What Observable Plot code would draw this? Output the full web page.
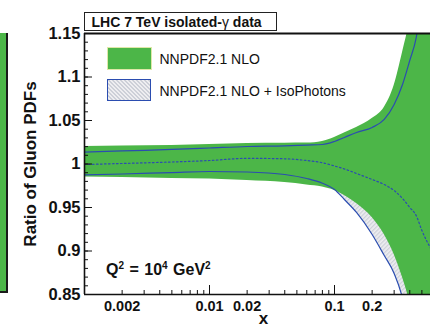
<!DOCTYPE html>
<html><head><meta charset="utf-8">
<script src="https://cdn.jsdelivr.net/npm/d3@7"></script>
<script src="https://cdn.jsdelivr.net/npm/@observablehq/plot@0.6"></script>
<style>
html,body{margin:0;padding:0;background:#fff;overflow:hidden}
#wrap{position:relative;width:430px;height:330px;font-family:"Liberation Sans",Arial,Helvetica,sans-serif;color:#111}
#wrap svg{position:absolute;left:0;top:0}
.ov{position:absolute;white-space:nowrap}
</style></head><body><div id="wrap"></div>
<script>
// ---- data ----
const xs      = [0.001, 0.002, 0.005, 0.01, 0.02, 0.04, 0.06, 0.08, 0.1, 0.12, 0.15, 0.2, 0.25, 0.3, 0.35, 0.4, 0.45, 0.5, 0.6];
const nloHigh = [1.0200, 1.0207, 1.0213, 1.0224, 1.0236, 1.0239, 1.0241, 1.0259, 1.0305, 1.0356, 1.0420, 1.0523, 1.0649, 1.0902, 1.1282, 1.165, 1.21, 1.26, 1.35];
const nloLow  = [0.9850, 0.9845, 0.9833, 0.9828, 0.9810, 0.9787, 0.9759, 0.9735, 0.9695, 0.9638, 0.9546, 0.9385, 0.9190, 0.8960, 0.8695, 0.840, 0.80, 0.75, 0.65];
const isoHigh = [1.0136, 1.0150, 1.0167, 1.0184, 1.0201, 1.0209, 1.0218, 1.0224, 1.0259, 1.0305, 1.0362, 1.0420, 1.0512, 1.0684, 1.0914, 1.119, 1.145, 1.19, 1.28];
const isoLow  = [0.9876, 0.9885, 0.9902, 0.9914, 0.9908, 0.9879, 0.9833, 0.9779, 0.9707, 0.9592, 0.9443, 0.9190, 0.8948, 0.8741, 0.8454, 0.800, 0.75, 0.70, 0.60];
const isoMid  = [0.9994, 1.0006, 1.0023, 1.0040, 1.0065, 1.0060, 1.0040, 1.0015, 0.9977, 0.9943, 0.9891, 0.9822, 0.9764, 0.9695, 0.9603, 0.950, 0.9408, 0.9236, 0.9006];

const seriesNames = ["NNPDF2.1 NLO", "NNPDF2.1 NLO + IsoPhotons"];
const titleText = "LHC 7 TeV isolated-";
const yTitle = "Ratio of Gluon PDFs";
const xTitle = "x";

const xDomain = [0.001, 0.586];
const yDomain = [0.85, 1.15];
const yTicks = [0.85, 0.9, 0.95, 1, 1.05, 1.1, 1.15];
const yTickLabels = ["0.85", "0.9", "0.95", "1", "1.05", "1.1", "1.15"];
const xTicks = [0.002, 0.01, 0.02, 0.1, 0.2];
const xTickLabels = ["0.002", "0.01", "0.02", "0.1", "0.2"];
const decades = [0.001, 0.01, 0.1];
const mult = [2, 3, 4, 5, 6, 7, 8, 9];

const rows = xs.map((x, i) => ({x, nloHigh: nloHigh[i], nloLow: nloLow[i], isoHigh: isoHigh[i], isoLow: isoLow[i], isoMid: isoMid[i]}));
const xMinor = decades.flatMap(d => mult.map(m => +(m * d).toPrecision(3))).filter(v => v <= xDomain[1]);
const yMinor = d3.range(0, 31).map(i => +(yDomain[0] + i * 0.01).toFixed(2));

const GREEN = "#4cb648";
const BLUE = "#2b4db0";

function hatchDefs() {
  const ns = "http://www.w3.org/2000/svg";
  const defs = document.createElementNS(ns, "defs");
  defs.innerHTML = '<pattern id="isohatch" patternUnits="userSpaceOnUse" width="3" height="3" patternTransform="rotate(45)">' +
    '<rect width="3" height="3" fill="#eeeef1"/><rect width="1.3" height="3" fill="#cdd0d8"/></pattern>';
  return defs;
}

const font = "'Liberation Sans', Arial, Helvetica, sans-serif";
const svg = Plot.plot({
  width: 430, height: 330,
  marginLeft: 84, marginRight: 0, marginTop: 33, marginBottom: 36,
  x: {type: "log", domain: xDomain, label: null},
  y: {domain: yDomain, label: null},
  style: {fontFamily: font, background: "transparent", color: "#111"},
  marks: [
    hatchDefs,
    Plot.areaY(rows, {x: "x", y1: "isoLow", y2: "isoHigh", fill: "url(#isohatch)", curve: "monotone-x", clip: true}),
    Plot.areaY(rows, {x: "x", y1: "nloLow", y2: "nloHigh", fill: GREEN, curve: "monotone-x", clip: true}),
    Plot.lineY(rows, {x: "x", y: "isoHigh", stroke: BLUE, strokeWidth: 1.2, curve: "monotone-x", clip: true}),
    Plot.lineY(rows, {x: "x", y: "isoLow", stroke: BLUE, strokeWidth: 1.2, curve: "monotone-x", clip: true}),
    Plot.lineY(rows, {x: "x", y: "isoMid", stroke: BLUE, strokeWidth: 1.2, strokeDasharray: "1.6,2.4", curve: "monotone-x", clip: true}),
    // frame
    Plot.ruleX([xDomain[0]], {stroke: "#111", strokeWidth: 1.6}),
    Plot.ruleY([yDomain[1]], {stroke: "#111", strokeWidth: 2.2}),
    Plot.ruleY([yDomain[0]], {stroke: "#111", strokeWidth: 1.6}),
    // y ticks (inward)
    Plot.axisY(yMinor, {anchor: "left", tickSize: -4, fill: "none", label: null}),
    Plot.axisY(yTicks, {anchor: "left", tickSize: -8, fill: "none", label: null}),
    Plot.axisY(yTicks, {anchor: "left", tickSize: 0, tickPadding: 4, label: null, fontSize: 16.5, fontWeight: "bold",
      tickFormat: d => yTickLabels[yTicks.indexOf(d)]}),
    // x ticks (inward)
    Plot.axisX(xMinor, {anchor: "bottom", tickSize: -4, fill: "none", label: null}),
    Plot.axisX(decades, {anchor: "bottom", tickSize: -9, fill: "none", label: null}),
    Plot.text(xTicks, {x: d => d, text: (d, i) => xTickLabels[i], frameAnchor: "bottom", textAnchor: "middle", lineAnchor: "top", dy: 6, fontSize: 14.5, fontWeight: "bold"}),
    // axis titles
    Plot.text([yTitle], {text: d => d, frameAnchor: "left", textAnchor: "middle", lineAnchor: "middle", rotate: -90, dx: -54, fontSize: 17, fontWeight: "bold"}),
    Plot.text([xTitle], {text: d => d, frameAnchor: "bottom", textAnchor: "middle", lineAnchor: "middle", dx: 6, dy: 24, fontSize: 17, fontWeight: "bold"})
  ]
});

const wrap = document.getElementById("wrap");
wrap.appendChild(svg);

function ov(html, css) {
  const d = document.createElement("div");
  d.className = "ov";
  d.style.cssText = css;
  d.innerHTML = html;
  wrap.appendChild(d);
  return d;
}
// neighbouring panel edge
ov("", `left:0;top:33px;width:6px;height:258px;background:${GREEN};border-right:2px solid #1a1a1a;border-bottom:2px solid #1a1a1a;`);
// title box
ov("", "left:84px;top:11.5px;width:193px;height:19px;box-sizing:border-box;border:1.2px solid #222;background:#fff;");
ov(titleText + '<span style="font-weight:normal">γ</span> data', "left:91.5px;top:14.8px;font-size:14px;line-height:14px;font-weight:bold;");
// legend
ov("", `left:107px;top:47px;width:45px;height:23px;box-sizing:border-box;background:${GREEN};border:1px solid #dfe8a8;`);
ov("", `left:107px;top:79px;width:44px;height:22px;box-sizing:border-box;border:1.3px solid ${BLUE};background:repeating-linear-gradient(45deg,#cdd0d8 0 1.3px,#eeeef1 1.3px 2.8px);`);
ov(seriesNames[0], "left:159.5px;top:52.2px;font-size:14px;line-height:14px;");
ov(seriesNames[1], "left:159.5px;top:83.8px;font-size:14px;line-height:14px;");
// annotation
ov('Q<sup style="font-size:10px;vertical-align:6px">2</sup> = 10<sup style="font-size:10px;vertical-align:6px">4</sup> GeV<sup style="font-size:10px;vertical-align:6px">2</sup>',
   "left:106px;top:257.5px;font-size:16px;line-height:15px;font-weight:bold;word-spacing:1px;");
</script></body></html>
